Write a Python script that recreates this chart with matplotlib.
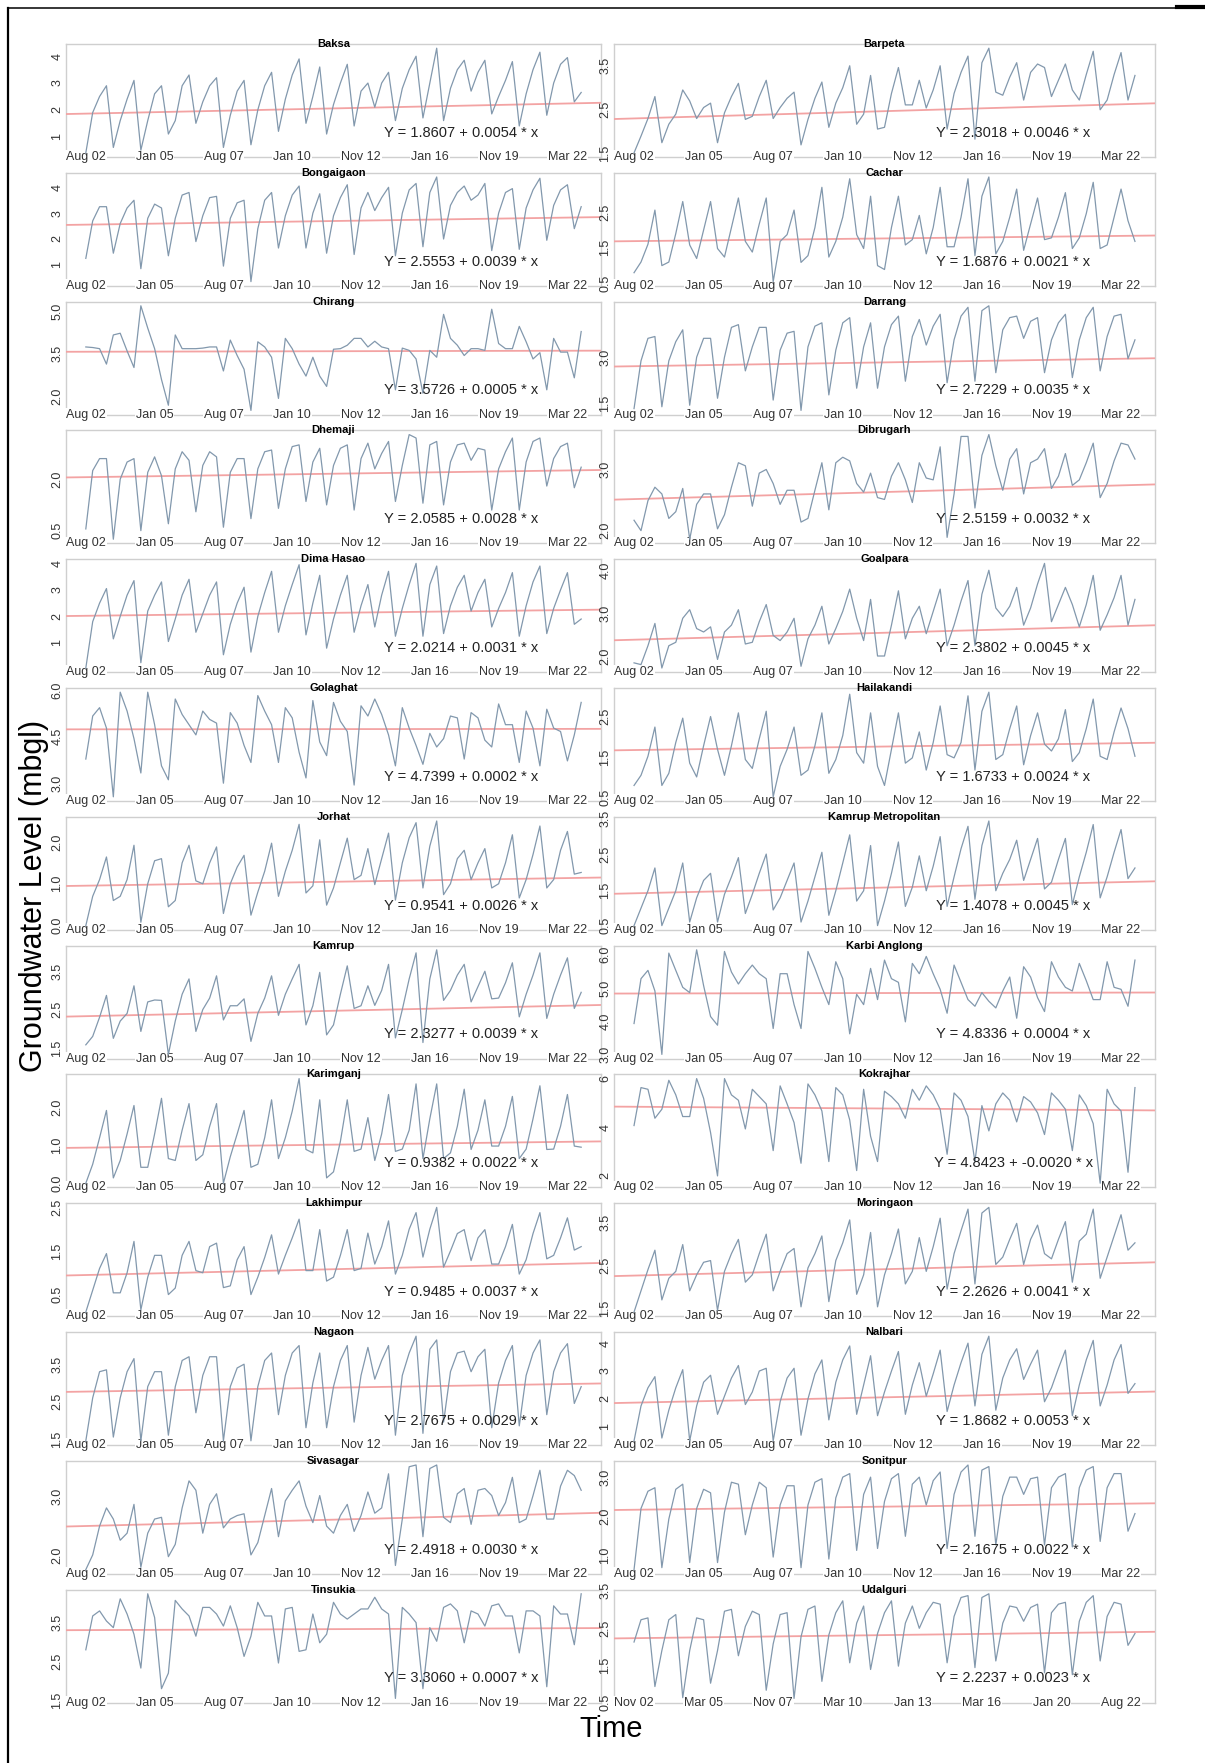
import numpy as np
import matplotlib
matplotlib.use("Agg")
import matplotlib.pyplot as plt
from matplotlib.lines import Line2D
from matplotlib.transforms import blended_transform_factory

plt.rcParams["font.family"] = ["Liberation Sans Narrow", "Liberation Sans", "DejaVu Sans"]

# ---- data: groundwater level (mbgl), one value per observation ----
baksa = [0.4, 1.9, 2.5, 2.9, 0.6, 1.6, 2.4, 3.1, 0.5, 1.6, 2.6, 2.9, 1.1, 1.6, 2.9, 3.3, 1.5, 2.3, 2.9, 3.2,
         0.6, 1.8, 2.7, 3.1, 0.7, 2.0, 2.9, 3.4, 1.2, 2.4, 3.3, 3.9, 1.5, 2.5, 3.6, 1.1, 2.2, 3.0, 3.7, 1.4,
         2.7, 3.0, 2.1, 3.0, 3.4, 1.6, 2.8, 3.5, 4.0, 1.7, 3.0, 4.3, 1.6, 2.8, 3.5, 3.85, 2.7, 3.4, 3.85, 1.85,
         2.5, 3.1, 3.8, 1.4, 2.6, 3.5, 4.15, 1.8, 3.0, 3.7, 3.95, 2.3, 2.65]
bongaigaon = [1.25, 2.7, 3.25, 3.25, 1.45, 2.6, 3.2, 3.5, 0.85, 2.8, 3.35, 3.2, 1.35, 2.8, 3.7, 3.8, 1.9, 2.9, 3.6, 3.65,
              0.95, 2.8, 3.4, 3.5, 0.35, 2.4, 3.5, 3.8, 1.65, 2.9, 3.7, 4.05, 1.65, 3.0, 3.75, 1.45, 2.9, 3.6, 4.1, 1.4,
              3.2, 3.8, 3.1, 3.6, 4.0, 1.35, 3.0, 3.9, 4.15, 1.7, 3.8, 4.4, 2.0, 3.3, 3.8, 4.05, 3.5, 3.7, 4.15, 1.55,
              3.0, 3.8, 3.95, 1.6, 3.2, 3.9, 4.35, 1.95, 3.3, 3.9, 4.1, 2.4, 3.25]
chirang = [3.74, 3.72, 3.68, 3.14, 4.16, 4.22, 3.6, 3.02, 5.18, 4.4, 3.68, 2.6, 1.7, 4.16, 3.68, 3.68, 3.68, 3.7, 3.74, 3.74,
           2.9, 3.98, 3.44, 2.96, 1.52, 3.92, 3.74, 3.38, 1.94, 4.04, 3.68, 3.14, 2.72, 3.38, 2.72, 2.36, 3.66, 3.68, 3.8, 4.04,
           4.04, 3.74, 3.94, 3.74, 3.68, 2.24, 3.7, 3.62, 3.32, 2.12, 3.62, 3.38, 4.88, 4.04, 3.8, 3.44, 3.68, 3.68, 3.62, 5.06,
           3.86, 3.68, 3.68, 4.46, 3.92, 3.32, 3.54, 2.24, 4.04, 3.56, 3.56, 2.66, 4.28]
dhemaji = [0.55, 2.25, 2.6, 2.6, 0.25, 2.0, 2.5, 2.6, 0.5, 2.2, 2.65, 2.1, 0.7, 2.3, 2.8, 2.55, 1.05, 2.4, 2.8, 2.65,
           0.6, 2.2, 2.6, 2.6, 0.85, 2.3, 2.8, 2.85, 1.15, 2.3, 2.95, 3.0, 1.35, 2.5, 2.9, 1.25, 2.4, 2.9, 3.0, 1.1,
           2.6, 3.05, 2.3, 2.75, 3.1, 1.35, 2.4, 3.3, 3.2, 1.3, 3.0, 3.1, 1.25, 2.5, 3.0, 3.05, 2.55, 2.9, 2.85, 1.1,
           2.3, 2.8, 3.2, 1.1, 2.5, 3.1, 3.2, 1.8, 2.6, 2.95, 3.05, 1.75, 2.35]
dima_hasao = [0.05, 1.8, 2.5, 3.05, 1.15, 2.0, 2.8, 3.35, 0.25, 2.2, 2.8, 3.3, 1.05, 1.9, 2.8, 3.4, 1.4, 2.1, 2.8, 3.3,
              0.55, 1.7, 2.5, 3.1, 0.65, 2.0, 2.9, 3.7, 1.4, 2.4, 3.2, 3.95, 1.3, 2.5, 3.55, 0.8, 1.9, 2.8, 3.55, 1.4,
              2.4, 3.2, 1.6, 2.8, 3.7, 1.25, 2.3, 3.2, 4.0, 1.25, 3.2, 3.9, 1.35, 2.4, 3.1, 3.55, 2.2, 2.9, 3.4, 1.6,
              2.3, 2.9, 3.65, 1.25, 2.4, 3.3, 3.9, 1.35, 2.3, 3.0, 3.65, 1.7, 1.9]
golaghat = [3.78, 5.17, 5.44, 4.78, 2.56, 5.94, 5.33, 4.44, 3.33, 5.94, 4.89, 3.56, 3.11, 5.72, 5.22, 4.89, 4.56, 5.33, 5.06, 4.94,
            3.0, 5.28, 4.94, 4.22, 3.67, 5.83, 5.33, 4.89, 3.67, 5.44, 5.11, 4.0, 3.17, 5.67, 4.33, 3.89, 5.61, 5.0, 4.67, 2.94,
            5.5, 5.17, 5.72, 5.22, 4.56, 3.56, 5.44, 4.78, 4.22, 3.61, 4.61, 4.17, 4.44, 5.17, 5.11, 3.78, 5.28, 5.11, 4.39, 4.17,
            5.56, 4.89, 4.89, 3.67, 5.33, 4.78, 3.56, 5.39, 4.78, 4.67, 3.72, 4.56, 5.61]
jorhat = [0.0, 0.7, 1.1, 1.64, 0.6, 0.7, 1.1, 1.92, 0.08, 1.0, 1.55, 1.6, 0.45, 0.6, 1.5, 1.92, 1.07, 1.0, 1.5, 1.88,
          0.29, 1.0, 1.4, 1.68, 0.25, 0.8, 1.3, 1.97, 0.7, 1.3, 1.8, 2.42, 0.78, 0.95, 2.05, 0.49, 0.9, 1.5, 2.09, 1.1,
          1.2, 1.84, 0.98, 1.6, 2.21, 0.61, 1.5, 2.1, 2.46, 0.9, 1.9, 2.5, 0.74, 1.0, 1.6, 1.8, 1.1, 1.5, 1.84, 0.9,
          1.0, 1.5, 2.17, 0.66, 1.1, 1.7, 2.38, 0.9, 1.1, 1.8, 2.25, 1.23, 1.27]
kamrup = [1.58, 1.8, 2.3, 2.87, 1.75, 2.2, 2.4, 3.12, 1.93, 2.7, 2.75, 2.74, 1.33, 2.2, 2.9, 3.3, 1.93, 2.5, 2.8, 3.38,
          2.23, 2.6, 2.6, 2.78, 1.67, 2.4, 2.8, 3.38, 2.35, 2.9, 3.3, 3.68, 2.1, 2.6, 3.47, 1.84, 2.1, 2.9, 3.64, 2.53,
          2.6, 3.12, 2.61, 3.0, 3.68, 1.76, 2.5, 3.3, 3.98, 1.64, 3.3, 4.06, 2.74, 3.0, 3.4, 3.68, 2.7, 3.1, 3.5, 2.78,
          2.8, 3.2, 3.72, 2.31, 2.9, 3.4, 3.98, 2.27, 2.9, 3.4, 3.85, 2.53, 2.95]
karimganj = [0.0, 0.5, 1.2, 1.92, 0.14, 0.6, 1.3, 2.05, 0.42, 0.42, 1.3, 2.24, 0.65, 0.6, 1.4, 2.1, 0.6, 0.75, 1.5, 2.1,
             0.0, 0.7, 1.3, 1.92, 0.42, 0.5, 1.2, 2.2, 0.65, 1.2, 1.9, 2.76, 0.89, 0.8, 2.2, 0.14, 0.3, 1.1, 2.2, 0.84,
             0.9, 1.73, 0.6, 1.3, 2.34, 0.84, 0.9, 1.4, 2.62, 0.65, 1.7, 2.62, 0.65, 0.8, 1.5, 2.48, 0.89, 1.4, 2.2, 0.98,
             0.98, 1.5, 2.29, 0.65, 0.9, 1.7, 2.57, 0.89, 0.9, 1.5, 2.34, 0.98, 0.95]
lakhimpur = [0.1, 0.6, 1.1, 1.44, 0.54, 0.54, 1.0, 1.72, 0.15, 0.9, 1.4, 1.4, 0.5, 0.65, 1.4, 1.72, 1.05, 1.0, 1.6, 1.68,
             0.66, 0.7, 1.3, 1.6, 0.5, 0.9, 1.35, 1.87, 0.97, 1.4, 1.8, 2.23, 1.05, 1.05, 1.99, 0.81, 0.9, 1.4, 1.99, 1.05,
             1.1, 1.91, 1.2, 1.6, 2.19, 0.97, 1.4, 2.0, 2.38, 1.36, 2.0, 2.5, 1.13, 1.5, 1.9, 1.99, 1.28, 1.8, 1.99, 1.2,
             1.2, 1.6, 2.11, 0.97, 1.3, 1.9, 2.38, 1.32, 1.4, 1.8, 2.26, 1.52, 1.6]
nagaon = [1.45, 2.6, 3.3, 3.35, 1.55, 2.6, 3.3, 3.65, 1.45, 2.9, 3.3, 3.3, 1.6, 2.9, 3.6, 3.7, 2.2, 3.2, 3.7, 3.7,
          1.45, 2.9, 3.4, 3.5, 1.45, 2.9, 3.6, 3.8, 2.15, 3.2, 3.8, 4.0, 1.8, 3.0, 3.8, 1.8, 2.9, 3.6, 4.0, 1.95,
          3.2, 3.95, 3.1, 3.6, 4.0, 1.6, 3.2, 3.8, 4.25, 1.65, 3.9, 4.15, 1.95, 3.3, 3.8, 3.85, 3.3, 3.7, 3.9, 1.8,
          3.0, 3.6, 4.0, 1.85, 3.2, 3.8, 4.15, 2.15, 3.3, 3.8, 4.05, 2.45, 2.9]
sivasagar = [1.75, 2.0, 2.49, 2.8, 2.61, 2.25, 2.37, 2.86, 1.79, 2.37, 2.61, 2.64, 1.97, 2.18, 2.8, 3.26, 3.1, 2.37, 2.86, 3.04,
             2.46, 2.61, 2.67, 2.7, 2.0, 2.21, 2.67, 3.13, 2.31, 2.92, 3.1, 3.26, 2.83, 2.55, 3.01, 2.49, 2.37, 2.67, 2.86, 2.4,
             2.67, 3.07, 2.71, 2.8, 3.38, 1.82, 2.61, 3.5, 3.53, 2.31, 3.47, 3.53, 2.64, 2.55, 3.04, 3.13, 2.52, 3.1, 3.13, 3.01,
             2.67, 2.89, 3.32, 2.55, 2.61, 3.01, 3.44, 2.61, 2.61, 3.17, 3.44, 3.35, 3.1]
tinsukia = [2.8, 3.67, 3.8, 3.54, 3.37, 4.11, 3.72, 3.2, 2.33, 4.24, 3.63, 1.8, 2.2, 4.07, 3.85, 3.67, 3.15, 3.89, 3.89, 3.72,
            3.41, 3.93, 3.37, 2.63, 3.15, 4.02, 3.67, 3.67, 2.46, 3.85, 3.89, 2.76, 2.8, 3.72, 2.98, 3.2, 4.02, 3.72, 3.59, 3.72,
            3.85, 3.85, 4.15, 3.85, 3.72, 1.55, 3.89, 3.72, 3.5, 1.8, 3.37, 3.02, 3.89, 3.98, 3.8, 2.98, 3.8, 3.72, 3.41, 3.93,
            3.98, 3.67, 3.67, 2.72, 3.8, 3.8, 3.67, 1.85, 3.93, 3.72, 3.72, 2.93, 4.24]
barpeta = [1.52, 1.9, 2.3, 2.8, 1.75, 2.17, 2.4, 2.95, 2.7, 2.3, 2.55, 2.65, 1.75, 2.43, 2.8, 3.1, 2.28, 2.35, 2.8, 3.17,
           2.3, 2.55, 2.76, 2.9, 1.7, 2.28, 2.76, 3.13, 2.1, 2.65, 3.0, 3.5, 2.17, 2.4, 3.28, 2.06, 2.1, 2.87, 3.46, 2.61,
           2.61, 3.17, 2.54, 2.95, 3.5, 2.06, 2.87, 3.35, 3.72, 1.83, 3.57, 3.9, 2.9, 2.83, 3.24, 3.57, 2.72, 3.35, 3.54, 3.46,
           2.8, 3.17, 3.54, 2.95, 2.72, 3.3, 3.83, 2.5, 2.72, 3.3, 3.8, 2.72, 3.28]
cachar = [0.8, 1.1, 1.6, 2.56, 1.0, 1.1, 1.9, 2.8, 1.58, 1.2, 2.0, 2.8, 1.48, 1.24, 2.07, 2.9, 1.68, 1.38, 2.17, 2.9,
          0.55, 1.68, 1.87, 2.56, 1.09, 1.28, 2.07, 3.2, 1.24, 1.68, 2.36, 3.44, 1.87, 1.48, 2.95, 1.0, 0.89, 2.07, 2.95, 1.58,
          1.73, 2.41, 1.33, 2.07, 3.2, 1.53, 1.53, 2.36, 3.44, 1.28, 2.95, 3.49, 1.33, 1.68, 2.36, 3.15, 1.43, 2.17, 2.9, 1.73,
          1.78, 2.36, 3.05, 1.48, 1.78, 2.46, 3.34, 1.48, 1.58, 2.36, 3.15, 2.26, 1.68]
darrang = [1.33, 2.9, 3.64, 3.7, 1.39, 2.9, 3.53, 3.92, 1.44, 3.02, 3.64, 3.64, 1.67, 3.02, 4.0, 4.09, 2.57, 3.36, 4.0, 4.0,
           1.61, 3.25, 3.81, 3.87, 1.27, 3.36, 4.04, 4.15, 1.78, 3.25, 4.15, 4.32, 2.0, 3.36, 4.15, 2.0, 3.36, 4.09, 4.37, 2.23,
           3.7, 4.26, 3.42, 4.04, 4.43, 2.18, 3.59, 4.37, 4.66, 2.23, 4.55, 4.71, 2.51, 3.92, 4.32, 4.37, 3.64, 4.2, 4.32, 2.51,
           3.59, 4.15, 4.43, 2.35, 3.59, 4.32, 4.66, 2.57, 3.7, 4.37, 4.43, 2.97, 3.59]
dibrugarh = [2.17, 2.0, 2.49, 2.71, 2.6, 2.2, 2.31, 2.69, 1.86, 2.43, 2.6, 2.6, 2.03, 2.26, 2.71, 3.11, 3.06, 2.4, 2.94, 3.0,
             2.77, 2.43, 2.66, 2.66, 2.14, 2.2, 2.66, 3.11, 2.34, 3.11, 3.2, 3.14, 2.77, 2.63, 2.94, 2.54, 2.51, 2.89, 3.11, 2.83,
             2.46, 3.11, 2.86, 2.83, 3.37, 1.89, 2.6, 3.54, 3.54, 2.37, 3.23, 3.57, 3.06, 2.66, 3.17, 3.34, 2.6, 3.11, 3.17, 3.34,
             2.69, 2.89, 3.26, 2.74, 2.83, 3.11, 3.43, 2.54, 2.77, 3.14, 3.43, 3.4, 3.17]
goalpara = [1.84, 1.8, 2.24, 2.76, 1.72, 2.24, 2.32, 2.88, 3.08, 2.64, 2.56, 2.68, 1.92, 2.56, 2.72, 3.08, 2.28, 2.32, 2.8, 3.2,
            2.48, 2.36, 2.56, 2.88, 1.76, 2.4, 2.72, 3.16, 2.28, 2.64, 3.04, 3.56, 2.88, 2.36, 3.32, 2.0, 2.0, 2.72, 3.52, 2.4,
            2.88, 3.16, 2.52, 3.04, 3.56, 2.24, 2.72, 3.28, 3.76, 2.24, 3.44, 4.0, 3.12, 2.92, 3.16, 3.6, 2.72, 3.12, 3.68, 4.16,
            2.8, 3.2, 3.6, 3.2, 2.68, 3.2, 3.88, 2.6, 2.96, 3.36, 3.88, 2.72, 3.32]
hailakandi = [0.8, 1.05, 1.52, 2.24, 0.8, 1.1, 1.86, 2.46, 1.35, 1.01, 1.78, 2.5, 1.69, 1.05, 1.78, 2.59, 1.44, 1.22, 1.95, 2.63,
              0.52, 1.27, 1.69, 2.24, 1.05, 1.18, 1.78, 2.59, 1.1, 1.44, 2.03, 3.05, 1.61, 1.35, 2.59, 1.27, 0.8, 1.69, 2.59, 1.35,
              1.48, 2.12, 1.18, 1.86, 2.76, 1.56, 1.48, 1.86, 3.01, 1.18, 2.63, 3.1, 1.44, 1.56, 2.2, 2.76, 1.31, 2.03, 2.59, 1.82,
              1.65, 1.95, 2.67, 1.39, 1.61, 2.2, 2.93, 1.52, 1.44, 2.12, 2.71, 2.2, 1.52]
kamrup_metro = [0.5, 0.99, 1.48, 2.12, 0.5, 0.99, 1.48, 2.26, 0.6, 1.28, 1.77, 1.97, 0.6, 1.38, 1.87, 2.41, 0.84, 1.38, 1.97, 2.51,
                0.94, 1.28, 1.77, 2.26, 0.6, 1.19, 1.87, 2.56, 0.79, 1.48, 2.26, 3.05, 1.19, 1.48, 2.75, 0.5, 1.19, 1.97, 2.85, 1.04,
                1.58, 2.46, 1.48, 2.17, 3.0, 1.04, 1.87, 2.66, 3.29, 1.24, 2.75, 3.44, 1.48, 1.97, 2.36, 2.9, 1.77, 2.36, 2.95, 1.53,
                1.72, 2.36, 2.95, 1.09, 1.87, 2.56, 3.34, 1.28, 1.87, 2.56, 3.2, 1.82, 2.12]
karbi_anglong = [3.93, 5.28, 5.53, 4.91, 3.0, 6.05, 5.53, 5.02, 4.86, 6.15, 5.07, 4.14, 3.88, 6.1, 5.48, 5.12, 5.43, 5.69, 5.43, 5.28,
                 3.78, 5.43, 5.43, 4.5, 3.78, 6.1, 5.59, 5.02, 4.5, 5.79, 5.28, 3.62, 4.81, 4.5, 5.59, 4.65, 5.84, 5.28, 5.17, 3.98,
                 5.74, 5.43, 5.95, 5.43, 4.96, 4.24, 5.69, 5.17, 4.65, 4.45, 4.86, 4.6, 4.4, 4.91, 5.33, 4.09, 5.64, 5.33, 4.71, 4.29,
                 5.79, 5.33, 5.02, 4.91, 5.74, 5.22, 4.65, 4.65, 5.79, 5.02, 4.96, 4.45, 5.84]
kokrajhar = [4.07, 5.63, 5.56, 4.37, 4.74, 5.93, 5.33, 4.44, 4.44, 6.0, 5.19, 3.78, 2.0, 6.0, 5.33, 5.11, 3.93, 5.56, 5.26, 4.96,
             3.04, 5.7, 4.96, 4.19, 2.52, 5.78, 5.33, 4.67, 2.59, 5.63, 5.33, 4.3, 2.22, 5.56, 3.63, 2.59, 5.48, 5.26, 4.96, 4.37,
             5.56, 5.11, 5.7, 5.33, 4.74, 2.89, 5.41, 5.11, 4.44, 2.59, 4.89, 3.85, 4.96, 5.41, 5.11, 4.22, 5.26, 5.04, 4.59, 3.7,
             5.41, 5.11, 4.74, 3.04, 5.33, 4.89, 4.15, 1.7, 5.56, 4.96, 4.67, 2.15, 5.63]
moringaon = [1.42, 1.91, 2.4, 2.85, 1.7, 2.2, 2.36, 2.98, 1.91, 2.28, 2.57, 2.61, 1.46, 2.36, 2.77, 3.1, 2.11, 2.28, 2.77, 3.22,
             1.91, 2.36, 2.77, 2.89, 1.54, 2.44, 2.77, 3.18, 1.66, 2.61, 3.02, 3.55, 1.83, 2.28, 3.26, 1.54, 2.28, 2.77, 3.34, 2.07,
             2.36, 3.14, 2.36, 2.93, 3.59, 1.95, 2.77, 3.3, 3.8, 2.07, 3.71, 3.84, 2.52, 2.69, 3.1, 3.47, 2.52, 3.1, 3.43, 2.77,
             2.65, 3.1, 3.51, 2.11, 3.06, 3.22, 3.8, 2.2, 2.69, 3.18, 3.67, 2.85, 3.02]
nalbari = [0.5, 1.75, 2.4, 2.8, 0.6, 1.6, 2.4, 3.05, 0.5, 1.75, 2.6, 2.85, 1.45, 2.1, 2.75, 3.2, 1.8, 2.25, 3.0, 3.1,
           0.5, 1.9, 2.75, 3.1, 0.7, 2.0, 2.9, 3.4, 1.25, 2.6, 3.4, 3.9, 1.45, 2.5, 3.55, 1.4, 2.25, 3.0, 3.7, 1.45,
           2.5, 3.3, 2.1, 2.9, 3.75, 1.55, 2.5, 3.3, 4.0, 1.75, 3.6, 4.25, 1.6, 2.75, 3.4, 3.8, 2.7, 3.25, 3.75, 1.9,
           2.4, 3.1, 3.75, 1.4, 2.5, 3.4, 4.1, 1.75, 2.5, 3.4, 3.95, 2.2, 2.55]
sonitpur = [0.64, 2.2, 2.64, 2.73, 0.69, 1.93, 2.69, 2.82, 0.82, 2.2, 2.69, 2.6, 0.82, 2.11, 2.87, 2.82, 1.53, 2.29, 2.87, 2.73,
            0.96, 2.29, 2.78, 2.78, 0.69, 2.29, 2.87, 2.96, 0.91, 2.47, 3.0, 3.09, 1.13, 2.56, 3.0, 1.18, 2.38, 2.96, 3.09, 1.49,
            2.82, 3.0, 2.29, 2.91, 3.13, 1.18, 2.56, 3.13, 3.31, 1.49, 3.18, 3.27, 1.27, 2.51, 3.0, 3.0, 2.56, 2.96, 3.0, 1.27,
            2.73, 3.0, 3.09, 1.22, 2.73, 3.18, 3.27, 1.36, 2.73, 3.09, 3.09, 1.62, 2.07]
udalguri = [2.12, 2.72, 2.77, 0.92, 1.89, 2.72, 2.86, 0.62, 1.89, 2.77, 2.72, 1.01, 1.89, 2.95, 3.0, 1.75, 2.54, 2.95, 2.86, 0.82,
            2.07, 2.86, 2.91, 0.6, 2.26, 3.0, 3.09, 1.06, 2.31, 2.91, 3.23, 1.56, 2.63, 3.09, 1.38, 2.35, 2.91, 3.23, 1.47, 2.63,
            3.09, 2.49, 2.91, 3.19, 3.14, 1.56, 2.81, 3.32, 3.37, 1.43, 3.32, 3.42, 1.61, 2.63, 3.09, 3.05, 2.68, 3.05, 3.14, 1.29,
            2.91, 3.14, 3.19, 1.24, 2.68, 3.19, 3.37, 1.61, 2.81, 3.19, 3.14, 2.03, 2.35]

left_names = ["Baksa", "Bongaigaon", "Chirang", "Dhemaji", "Dima Hasao", "Golaghat", "Jorhat",
              "Kamrup", "Karimganj", "Lakhimpur", "Nagaon", "Sivasagar", "Tinsukia"]
right_names = ["Barpeta", "Cachar", "Darrang", "Dibrugarh", "Goalpara", "Hailakandi", "Kamrup Metropolitan",
               "Karbi Anglong", "Kokrajhar", "Moringaon", "Nalbari", "Sonitpur", "Udalguri"]
left_series = [baksa, bongaigaon, chirang, dhemaji, dima_hasao, golaghat, jorhat,
               kamrup, karimganj, lakhimpur, nagaon, sivasagar, tinsukia]
right_series = [barpeta, cachar, darrang, dibrugarh, goalpara, hailakandi, kamrup_metro,
                karbi_anglong, kokrajhar, moringaon, nalbari, sonitpur, udalguri]
left_intercepts = [1.8607, 2.5553, 3.5726, 2.0585, 2.0214, 4.7399, 0.9541, 2.3277, 0.9382, 0.9485, 2.7675, 2.4918, 3.3060]
left_slopes = [0.0054, 0.0039, 0.0005, 0.0028, 0.0031, 0.0002, 0.0026, 0.0039, 0.0022, 0.0037, 0.0029, 0.0030, 0.0007]
right_intercepts = [2.3018, 1.6876, 2.7229, 2.5159, 2.3802, 1.6733, 1.4078, 4.8336, 4.8423, 2.2626, 1.8682, 2.1675, 2.2237]
right_slopes = [0.0046, 0.0021, 0.0035, 0.0032, 0.0045, 0.0024, 0.0045, 0.0004, -0.0020, 0.0041, 0.0053, 0.0022, 0.0023]
left_yticks = [["1", "2", "3", "4"], ["1", "2", "3", "4"], ["2.0", "3.5", "5.0"], ["0.5", "2.0"], ["1", "2", "3", "4"],
               ["3.0", "4.5", "6.0"], ["0.0", "1.0", "2.0"], ["1.5", "2.5", "3.5"], ["0.0", "1.0", "2.0"],
               ["0.5", "1.5", "2.5"], ["1.5", "2.5", "3.5"], ["2.0", "3.0"], ["1.5", "2.5", "3.5"]]
right_yticks = [["1.5", "2.5", "3.5"], ["0.5", "1.5", "2.5"], ["1.5", "3.0"], ["2.0", "3.0"], ["2.0", "3.0", "4.0"],
                ["0.5", "1.5", "2.5"], ["0.5", "1.5", "2.5", "3.5"], ["3.0", "4.0", "5.0", "6.0"], ["2", "4", "6"],
                ["1.5", "2.5", "3.5"], ["1", "2", "3", "4"], ["1.0", "2.0", "3.0"], ["0.5", "1.5", "2.5", "3.5"]]
date_labels = ["Aug 02", "Jan 05", "Aug 07", "Jan 10", "Nov 12", "Jan 16", "Nov 19", "Mar 22"]
udalguri_dates = ["Nov 02", "Mar 05", "Nov 07", "Mar 10", "Jan 13", "Mar 16", "Jan 20", "Aug 22"]

W, H = 1205, 1763
fig = plt.figure(figsize=(W / 100, H / 100), dpi=100)


def panel(x0, x1, row, name, vals, a, b, ylabs, xlabs):
    top = 44 + 128.8 * row
    bot = 157 + 128.8 * row
    ax = fig.add_axes([x0 / W, 1 - bot / H, (x1 - x0) / W, (bot - top) / H])
    v = np.array(vals)
    x = np.arange(len(v))
    xl = (-0.04 * (len(v) - 1), 1.04 * (len(v) - 1))
    xr = np.array(xl)
    ax.plot(xr, a + b * xr, color="#f3a3a3", lw=1.3, zorder=1.8)
    ax.plot(x, v, color="#8298ad", lw=0.9, zorder=2)
    lo, hi = v.min(), v.max()
    pad = 0.04 * (hi - lo)
    ax.set_xlim(*xl)
    ax.set_ylim(lo - pad, hi + pad)
    ax.set_xticks(range(0, 71, 10))
    ax.set_xticklabels(xlabs)
    ax.set_yticks([float(t) for t in ylabs])
    ax.set_yticklabels(ylabs, rotation=90, va="center")
    ax.tick_params(axis="x", length=0, pad=0, labelsize=9, colors="#333333")
    ax.tick_params(axis="y", length=0, pad=2, labelsize=9, colors="#333333")
    for lab in ax.get_xticklabels():
        lab.set_va("center")
        lab.set_bbox(dict(facecolor="white", edgecolor="none", pad=0.6))
    ax.xaxis.set_zorder(1.5)
    for s in ax.spines.values():
        s.set_color("#cfcfcf")
        s.set_linewidth(1.0)
        s.set_zorder(0.5)
    ax.text(0.5, 1.0, name, transform=ax.transAxes, ha="center", va="center",
            fontsize=8, fontweight="bold", zorder=5)
    tr = blended_transform_factory(ax.transData, ax.transAxes)
    ax.text(54.5, 0.215, f"Y = {a:.4f} + {b:.4f} * x", transform=tr, ha="center", va="center",
            fontsize=10.5, color="#222222", zorder=4)


for k in range(13):
    panel(66, 601, k, left_names[k], left_series[k], left_intercepts[k], left_slopes[k],
          left_yticks[k], date_labels)
    panel(614, 1155, k, right_names[k], right_series[k], right_intercepts[k], right_slopes[k],
          right_yticks[k], udalguri_dates if right_names[k] == "Udalguri" else date_labels)

fig.text(34 / W, 1 - 896 / H, "Groundwater Level (mbgl)", rotation=90, ha="center", va="center",
         fontsize=22, family=["Liberation Sans", "DejaVu Sans"])
fig.text(611 / W, 1 - 1729 / H, "Time", ha="center", va="center", fontsize=21)

# frame lines of the original scan
fig.add_artist(Line2D([8 / W, 8 / W], [1 - 8 / H, 0], color="black", lw=1.6))
fig.add_artist(Line2D([8 / W, 1], [1 - 8 / H, 1 - 8 / H], color="black", lw=1.1))
fig.add_artist(Line2D([1177 / W, 1], [1 - 7 / H, 1 - 7 / H], color="black", lw=3))

fig.savefig("out.png", dpi=100)
